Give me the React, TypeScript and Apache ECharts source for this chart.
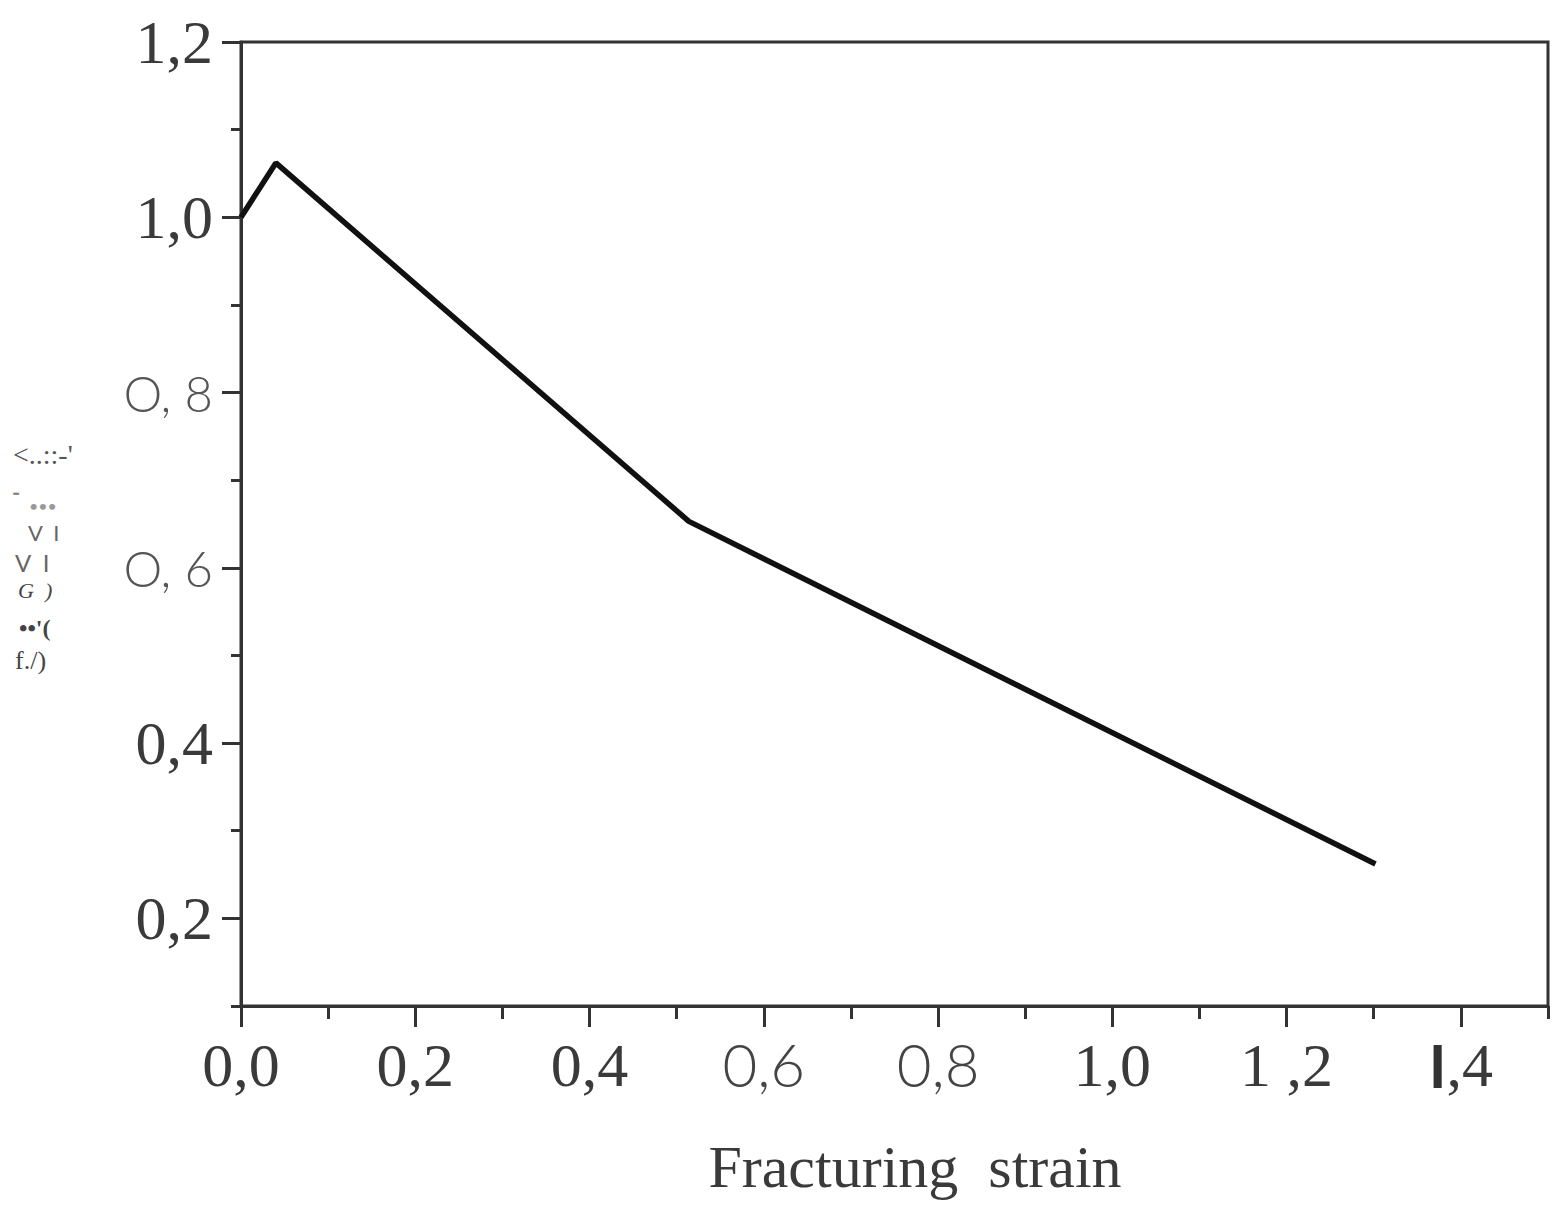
import React, { useEffect, useRef } from "react";
import * as echarts from "echarts";

// ---- data ----
const strain = [0, 0.04, 0.514, 1.302];
const ratio = [1.0, 1.062, 0.653, 0.262];

const xMajorTicks = [0, 0.2, 0.4, 0.6, 0.8, 1.0, 1.2, 1.4];
const xTickLabels = ["0,0", "0,2", "0,4", "0,6", "0,8", "1,0", "1 ,2", "I,4"];
const xTickFonts = ["s", "s", "s", "n", "n", "s", "s", "b"];

const yMajorTicks = [0.2, 0.4, 0.6, 0.8, 1.0, 1.2];
const yTickLabels = ["0,2", "0,4", "O, 6", "O, 8", "1,0", "1,2"];
const yTickFonts = ["s", "s", "ny", "ny", "s", "s"];

const xAxisTitle = "Fracturing  strain";
const yAxisTitleLines = ["<..::-'", "-", "•••", "V  I", "V  I", "G  )", "••'(", "f./)"];

const SERIF = "'Liberation Serif', 'DejaVu Serif', serif";
const SANS = "Lato, 'Open Sans', 'DejaVu Sans', sans-serif";
const TXT = "#3a3a3a";

const rich = {
  s: { fontFamily: SERIF, fontSize: 62, color: TXT },
  n: { fontFamily: SANS, fontWeight: 300, fontSize: 60, color: "#444" },
  ny: { fontFamily: SANS, fontWeight: 300, fontSize: 49, color: "#555" },
  b: { fontFamily: SANS, fontWeight: "bold", fontSize: 60, color: "#333" },
};

function fmt(ticks: number[], labels: string[], fonts: string[]) {
  return (v: number) => {
    const i = ticks.findIndex((t) => Math.abs(t - v) < 1e-6);
    if (i < 0) return "";
    const f = fonts[i];
    const t = labels[i];
    if (f === "b") return `{b|${t.slice(0, 1)}}{s|${t.slice(1)}}`;
    return `{${f}|${t}}`;
  };
}

export default function App() {
  const ref = useRef<HTMLDivElement>(null);
  useEffect(() => {
    if (!ref.current) return;
    const chart = echarts.init(ref.current, undefined, { renderer: "svg" });
    const lineC = "#333";
    const titleStyle = [
      { x: 13, y: 454, size: 28, font: SERIF, color: "#555", style: "normal", weight: "normal" },
      { x: 12, y: 492, size: 22, font: SANS, color: "#888", style: "normal", weight: "bold" },
      { x: 29, y: 505, size: 16, font: SANS, color: "#999", style: "normal", weight: "normal" },
      { x: 28, y: 532, size: 22, font: SANS, color: "#666", style: "normal", weight: "normal" },
      { x: 15, y: 562, size: 24, font: SANS, color: "#666", style: "normal", weight: "normal" },
      { x: 18, y: 590, size: 22, font: SERIF, color: "#444", style: "italic", weight: "normal" },
      { x: 19, y: 628, size: 24, font: SERIF, color: "#444", style: "normal", weight: "bold" },
      { x: 15, y: 660, size: 26, font: SERIF, color: "#444", style: "normal", weight: "normal" },
    ];
    const graphics: any[] = yAxisTitleLines.map((t, i) => ({
      type: "text",
      x: titleStyle[i].x,
      y: titleStyle[i].y,
      style: {
        text: t,
        fontFamily: titleStyle[i].font,
        fontSize: titleStyle[i].size,
        fontStyle: titleStyle[i].style,
        fontWeight: titleStyle[i].weight,
        fill: titleStyle[i].color,
        textAlign: "left",
        textVerticalAlign: "middle",
      },
    }));
    graphics.push({
      type: "text",
      x: 915,
      y: 1167,
      style: {
        text: xAxisTitle,
        fontFamily: SERIF,
        fontSize: 60,
        fill: TXT,
        textAlign: "center",
        textVerticalAlign: "middle",
      },
    });

    chart.setOption({
      animation: false,
      backgroundColor: "#fff",
      grid: {
        left: 241,
        right: 5,
        top: 42,
        bottom: 203,
        show: true,
        borderColor: lineC,
        borderWidth: 3,
        backgroundColor: "transparent",
      },
      xAxis: [
        {
          type: "value",
          min: 0,
          max: 1.5,
          interval: 0.1,
          axisLine: { show: true, onZero: false, lineStyle: { color: lineC, width: 3 } },
          axisTick: { show: true, inside: false, length: 13, lineStyle: { color: lineC, width: 3 } },
          axisLabel: { show: false },
          splitLine: { show: false },
        },
        {
          type: "value",
          position: "bottom",
          min: 0,
          max: 1.5,
          axisLine: { show: false },
          axisTick: {
            show: true,
            inside: false,
            length: 21,
            customValues: xMajorTicks,
            lineStyle: { color: lineC, width: 3 },
          },
          axisLabel: {
            show: true,
            margin: 28,
            customValues: xMajorTicks,
            formatter: fmt(xMajorTicks, xTickLabels, xTickFonts),
            rich,
          },
          splitLine: { show: false },
        },
      ],
      yAxis: [
        {
          type: "value",
          min: 0.1,
          max: 1.2,
          interval: 0.1,
          axisLine: { show: true, onZero: false, lineStyle: { color: lineC, width: 3 } },
          axisTick: { show: true, inside: false, length: 10, lineStyle: { color: lineC, width: 3 } },
          axisLabel: { show: false },
          splitLine: { show: false },
        },
        {
          type: "value",
          position: "left",
          min: 0.1,
          max: 1.2,
          axisLine: { show: false },
          axisTick: {
            show: true,
            inside: false,
            length: 19,
            customValues: yMajorTicks,
            lineStyle: { color: lineC, width: 3 },
          },
          axisLabel: {
            show: true,
            margin: 28,
            customValues: yMajorTicks,
            formatter: fmt(yMajorTicks, yTickLabels, yTickFonts),
            rich,
          },
          splitLine: { show: false },
        },
      ],
      series: [
        {
          type: "line",
          xAxisIndex: 0,
          yAxisIndex: 0,
          data: strain.map((x, i) => [x, ratio[i]]),
          symbol: "none",
          lineStyle: { color: "#111", width: 5.5 },
          clip: false,
        },
      ],
      graphic: graphics,
    });
    return () => chart.dispose();
  }, []);
  return (
    <div
      ref={ref}
      style={{ position: "fixed", left: 0, top: 0, width: 1553, height: 1209, background: "#fff" }}
    />
  );
}
